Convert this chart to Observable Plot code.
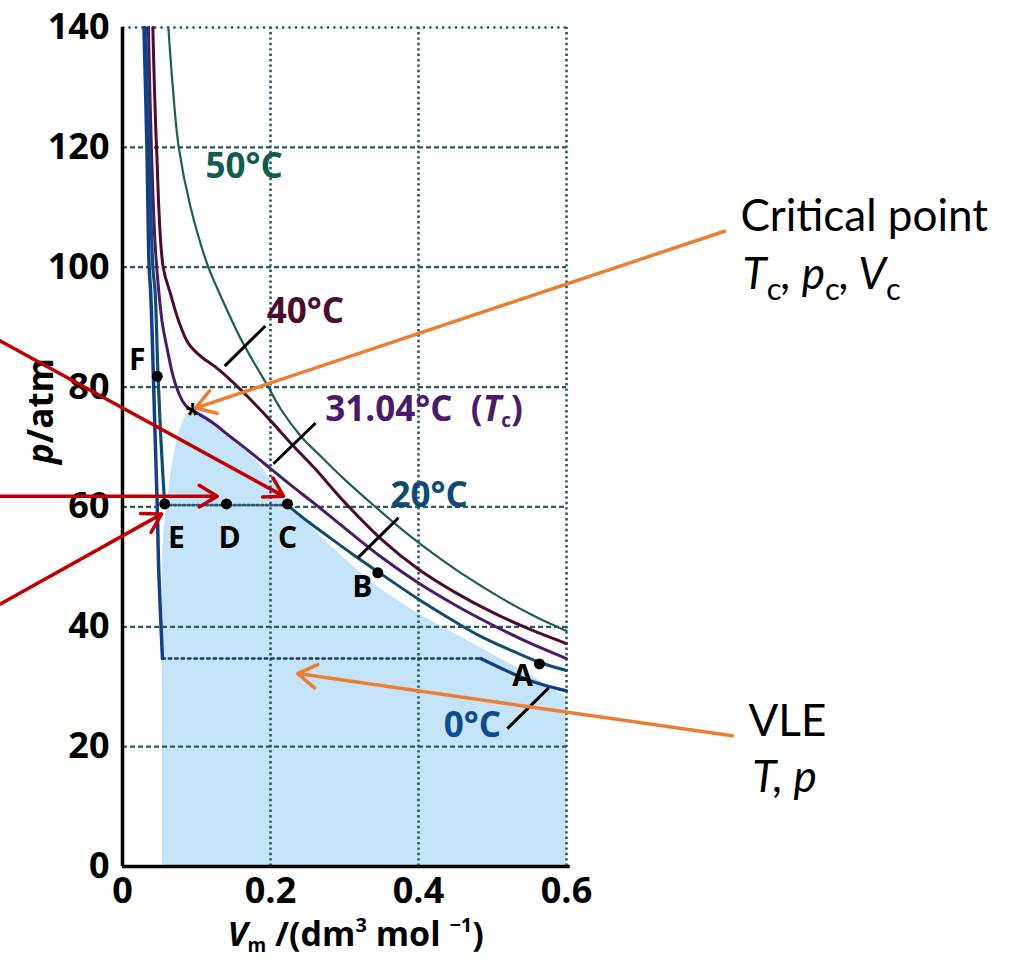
<!DOCTYPE html>
<html>
<head>
<meta charset="utf-8">
<script src="https://cdn.jsdelivr.net/npm/d3@7"></script>
<script src="https://cdn.jsdelivr.net/npm/@observablehq/plot@0.6"></script>
<style>
  html, body { margin: 0; padding: 0; background: #fff; }
  #chart svg { display: block; }
</style>
</head>
<body>
<div id="chart"></div>
<script>
// ---------- data (V in dm3/mol, p in atm) ----------
const xTicks = [0, 0.2, 0.4, 0.6];
const xTickLabels = ["0", "0.2", "0.4", "0.6"];
const yTicks = [0, 20, 40, 60, 80, 100, 120, 140];

const iso0Liquid = [[0.029,140],[0.033,120],[0.036,100],[0.038,96],[0.041,85],[0.044,72],[0.047,60],[0.049,49.3],[0.054,34.7]];
const iso0Tie    = [[0.054,34.7],[0.484,34.7]];
const iso0Vapor  = [[0.484,34.7],[0.52,32.6],[0.551,31],[0.6,29.3]];

const iso20Liquid = [[0.031,140],[0.036,120],[0.041,100],[0.044,96],[0.048,82],[0.052,71],[0.057,60.3]];
const iso20Tie    = [[0.057,60.3],[0.223,60.3]];
const iso20Vapor  = [[0.223,60.3],[0.25,57.6],[0.281,54.8],[0.31,52.2],[0.345,49.2],[0.40,44.6],[0.45,40.8],[0.484,38.4],[0.53,35.8],[0.565,34],[0.6,32.7]];

const iso31 = [[0.035,140],[0.039,120],[0.044,104],[0.049,96],[0.054,90.5],[0.061,86],[0.068,82],[0.075,79.3],[0.082,77.5],[0.09,76.4],[0.096,76],[0.12,74.2],[0.145,71.8],[0.17,69.4],[0.2,66.4],[0.23,63.4],[0.26,60.5],[0.30,56.5],[0.35,51.6],[0.40,47.3],[0.45,43.6],[0.5,40.3],[0.55,37.3],[0.6,34.7]];

const iso40 = [[0.041,140],[0.046,120],[0.055,100],[0.065,95.5],[0.076,91],[0.089,87.3],[0.105,85.2],[0.125,83.4],[0.145,81.3],[0.17,78.3],[0.2,74.4],[0.23,70.3],[0.26,66.4],[0.30,60.8],[0.35,54.6],[0.40,49.6],[0.45,45.7],[0.5,42.4],[0.55,39.6],[0.6,37.2]];

const iso50 = [[0.062,140],[0.068,130],[0.076,120],[0.092,110],[0.116,100],[0.128,96.5],[0.16,88],[0.197,80],[0.214,76.3],[0.241,71.8],[0.27,68.2],[0.30,64.6],[0.34,60.2],[0.382,55.8],[0.42,52.2],[0.457,49],[0.52,44.2],[0.561,41.5],[0.6,39.3]];

// upper edge of the vapour-liquid region
const vleTop = [[0.054,50],[0.056,56],[0.061,61],[0.069,68.2],[0.076,72.2],[0.083,74.6],[0.09,75.7],[0.097,76],[0.105,75.7],[0.12,74.7],[0.139,72.7],[0.16,70.2],[0.184,67.2],[0.211,62.7],[0.225,60.5],[0.241,58.5],[0.27,54.8],[0.30,51.4],[0.349,46.3],[0.40,42.2],[0.45,38.8],[0.50,35.4],[0.55,32],[0.6,28.2]];

const gridH = [
  {p:20,a:0,b:0.6},{p:40,a:0,b:0.6},{p:60,a:0,b:0.057},{p:60,a:0.223,b:0.6},
  {p:80,a:0,b:0.6},{p:100,a:0,b:0.6},{p:120,a:0,b:0.6}
];
const gridTop = [140];
const gridV = [0.2, 0.4, 0.6];

const statePoints = [
  {name:"A", V:0.5635, p:33.8, lx:0.5405, ly:31.8},
  {name:"B", V:0.345,  p:49,   lx:0.324,  ly:46.5},
  {name:"C", V:0.223,  p:60.5, lx:0.223,  ly:54.8},
  {name:"D", V:0.1405, p:60.5, lx:0.1446, ly:54.8},
  {name:"E", V:0.057,  p:60.5, lx:0.073,  ly:54.8},
  {name:"F", V:0.047,  p:81.8, lx:0.020,  ly:84.5}
];
const critical = [{V:0.0946, p:75.3}];

const curveLabels = [
  {t:"50°C", V:0.112, p:116.8, c:"#155c50"},
  {t:"40°C", V:0.195, p:92.5,  c:"#4b0c30"},
  {t:"20°C", V:0.362, p:61.8,  c:"#0f4a72"},
  {t:"0°C",  V:0.434, p:23.5,  c:"#0f4a8e"}
];
const tcLabel = [{t:"31.04°C  (Tc)", V:0.274, p:76.2, c:"#4a1b6b"}];

const leaders = [
  {x1:0.138,y1:83.5,x2:0.193,y2:90.2},
  {x1:0.204,y1:67.2,x2:0.261,y2:74},
  {x1:0.318,y1:51.5,x2:0.373,y2:58.2},
  {x1:0.520,y1:23,  x2:0.576,y2:29.8}
];

const redArrows = [
  {x1:-0.165,y1:87.7,x2:0.2176,y2:61.8},
  {x1:-0.165,y1:61.8,x2:0.128, y2:61.8},
  {x1:-0.165,y1:43.8,x2:0.0527,y2:58.8}
];
const orangeArrows = [
  {x1:0.8135,y1:106, x2:0.0986,y2:76.5},
  {x1:0.824, y1:21.8,x2:0.2365,y2:32.2}
];

const noteLines = [
  {t:"Critical point", V:0.835, p:108.4},
  {t:"VLE",            V:0.846, p:24.2}
];
const noteCrit = [{t:"Tc, pc, Vc", V:0.838, p:98.7}];
const noteVle  = [{t:"T, p", V:0.851, p:14.7}];

const xTitle = [{t:"Vm /(dm3 mol −1)", V:0.315, p:-11.5}];
const yTitle = [{t:"p/atm", V:-0.1095, p:76}];

// ---------- chart ----------
const X = d => d[0], Y = d => d[1];
const gridColor = "#2b5a5e";
const bold = {fontWeight: 700, fontFamily: "Open Sans"};

const chart = Plot.plot({
  width: 1017,
  height: 963,
  marginLeft: 122,
  marginRight: 451,
  marginTop: 27,
  marginBottom: 97,
  x: {domain: [0, 0.6], axis: null},
  y: {domain: [0, 140], axis: null},
  style: {fontFamily: "Open Sans", background: "#fff", overflow: "visible"},
  marks: [
    Plot.areaY(vleTop, {x: X, y1: 0, y2: Y, fill: "#c6e4f9", curve: "catmull-rom"}),
    Plot.ruleY(gridH, {y: "p", x1: "a", x2: "b", stroke: gridColor, strokeWidth: 2.2, strokeDasharray: "5,3"}),
    Plot.ruleY(gridTop, {x1: 0, x2: 0.6, stroke: gridColor, strokeWidth: 2.4, strokeDasharray: "2.4,4"}),
    Plot.ruleX(gridV, {y1: 0, y2: 140, stroke: gridColor, strokeWidth: 2.6, strokeDasharray: "2.4,3"}),
    // tie lines
    Plot.line(iso0Tie, {x: X, y: Y, stroke: "#1b3b66", strokeWidth: 2.6, strokeDasharray: "2.4,4"}),
    Plot.line(iso20Tie, {x: X, y: Y, stroke: "#2a5870", strokeWidth: 2.6, strokeDasharray: "2,2.6"}),
    // isotherms
    Plot.line(iso50, {x: X, y: Y, stroke: "#1d5e55", strokeWidth: 2.2, curve: "catmull-rom"}),
    Plot.line(iso40, {x: X, y: Y, stroke: "#4b0c30", strokeWidth: 3, curve: "catmull-rom"}),
    Plot.line(iso31, {x: X, y: Y, stroke: "#4a1b6b", strokeWidth: 3, curve: "catmull-rom"}),
    Plot.line(iso20Liquid, {x: X, y: Y, stroke: "#0f4d73", strokeWidth: 3.2, curve: "catmull-rom"}),
    Plot.line(iso20Vapor, {x: X, y: Y, stroke: "#0f4d73", strokeWidth: 3, curve: "catmull-rom"}),
    Plot.line(iso0Liquid, {x: X, y: Y, stroke: "#123f88", strokeWidth: 3.5, curve: "catmull-rom"}),
    Plot.line(iso0Vapor, {x: X, y: Y, stroke: "#123f88", strokeWidth: 3.2, curve: "catmull-rom"}),
    // axes
    Plot.ruleX([0], {y1: 0, y2: 140, stroke: "#000", strokeWidth: 3.5}),
    Plot.ruleY([0], {x1: 0, x2: 0.605, stroke: "#000", strokeWidth: 3.5}),
    Plot.text(yTicks, {x: 0, y: d => d, text: d => String(d), textAnchor: "end", dx: -13, fontSize: 36, fill: "#000", ...bold}),
    Plot.text(xTicks, {x: d => d, y: 0, text: (d, i) => xTickLabels[i], dy: 25, fontSize: 36, fill: "#000", ...bold}),
    Plot.text(xTitle, {x: "V", y: "p", text: "t", fontSize: 34, fill: "#000", ...bold, ariaDescription: "xtitle"}),
    Plot.text(yTitle, {x: "V", y: "p", text: "t", fontSize: 35, rotate: -90, fill: "#000", ...bold, ariaDescription: "ytitle"}),
    // leaders, points
    Plot.link(leaders, {x1: "x1", y1: "y1", x2: "x2", y2: "y2", stroke: "#000", strokeWidth: 3}),
    Plot.dot(statePoints, {x: "V", y: "p", r: 5.5, fill: "#000"}),
    Plot.text(statePoints, {x: "lx", y: "ly", text: "name", fontSize: 30, fill: "#000", ...bold}),
    Plot.text(critical, {x: "V", y: "p", text: () => "*", fontSize: 26, fill: "#000", ...bold}),
    // curve labels
    Plot.text(curveLabels, {x: "V", y: "p", text: "t", fill: "c", textAnchor: "start", fontSize: 35, ...bold}),
    Plot.text(tcLabel, {x: "V", y: "p", text: "t", fill: "c", textAnchor: "start", fontSize: 35, ...bold, ariaDescription: "tclabel"}),
    // arrows
    Plot.arrow(redArrows, {x1: "x1", y1: "y1", x2: "x2", y2: "y2", stroke: "#c00000", strokeWidth: 3.5, headLength: 9, headAngle: 62}),
    Plot.arrow(orangeArrows, {x1: "x1", y1: "y1", x2: "x2", y2: "y2", stroke: "#ed7d31", strokeWidth: 3.5, headLength: 9.5, headAngle: 64}),
    // notes
    Plot.text(noteLines, {x: "V", y: "p", text: "t", textAnchor: "start", fontSize: 44, fontFamily: "Lato", fill: "#000"}),
    Plot.text(noteCrit, {x: "V", y: "p", text: "t", textAnchor: "start", fontSize: 44, fontFamily: "Lato", fill: "#000", ariaDescription: "notecrit"}),
    Plot.text(noteVle, {x: "V", y: "p", text: "t", textAnchor: "start", fontSize: 44, fontFamily: "Lato", fontStyle: "italic", fill: "#000"})
  ]
});

document.getElementById("chart").appendChild(chart);

// ---------- rich text (italics, sub/superscripts) ----------
const NS = "http://www.w3.org/2000/svg";
function rich(label, parts) {
  chart.querySelectorAll(`g[aria-description="${label}"] text`).forEach(t => {
    t.textContent = "";
    let cur = 0;
    for (const p of parts) {
      const ts = document.createElementNS(NS, "tspan");
      ts.textContent = p.t;
      if (p.i) ts.setAttribute("font-style", "italic");
      if (p.s) ts.setAttribute("font-size", p.s);
      const sh = p.sh || 0;
      if (sh !== cur) { ts.setAttribute("dy", sh - cur); cur = sh; }
      t.appendChild(ts);
    }
  });
}
rich("xtitle", [
  {t:"V", i:true}, {t:"m", s:19, sh:6}, {t:" /(dm", sh:0}, {t:"3", s:20, sh:-14},
  {t:" mol ", sh:0}, {t:"−1", s:20, sh:-14}, {t:")", sh:0}
]);
rich("ytitle", [{t:"p", i:true}, {t:"/atm"}]);
rich("tclabel", [{t:"31.04°C  ("}, {t:"T", i:true}, {t:"c", s:19, sh:6}, {t:")", sh:0}]);
rich("notecrit", [
  {t:"T", i:true}, {t:"c", s:31, sh:11}, {t:", ", i:true, sh:0},
  {t:"p", i:true}, {t:"c", s:31, sh:11}, {t:", ", i:true, sh:0},
  {t:"V", i:true}, {t:"c", s:31, sh:11}
]);
</script>
</body>
</html>
